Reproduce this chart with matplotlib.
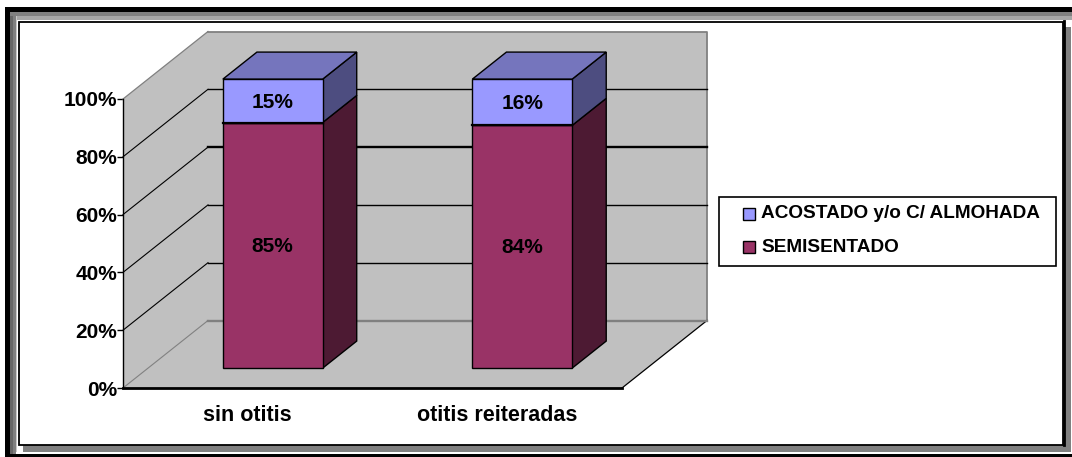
import matplotlib
matplotlib.use('Agg')
import matplotlib.pyplot as plt
from matplotlib.patches import Rectangle

plt.rcParams['font.family'] = ['Liberation Sans', 'DejaVu Sans']

# datos
categorias = ['sin otitis', 'otitis reiteradas']
semisentado = [85, 84]
acostado = [15, 16]
etiquetas_semi = ['85%', '84%']
etiquetas_acos = ['15%', '16%']
ticks = [0, 20, 40, 60, 80, 100]
tick_labels = ['0%', '20%', '40%', '60%', '80%', '100%']
nombre_acos = 'ACOSTADO y/o C/ ALMOHADA'
nombre_semi = 'SEMISENTADO'

W, H = 1072, 457
GRIS = '#C0C0C0'
GRIS_O = '#808080'
AZUL, AZUL_TOP, AZUL_LADO = '#9999FF', '#7575BD', '#4D4D80'
VINO, VINO_LADO = '#993366', '#4D1A33'

# desplazamiento de profundidad en unidades de datos (85 px, 67.5 px)
DX = 85 / 249.5
DY = 67.5 / 2.89
ANCHO = 0.40
D1, D2 = 0.294, 0.695


def proy(x, y, d):
    return x + d * DX, y + d * DY


def cara(ax, puntos, color, ec='black', lw=1.0, z=3):
    xs = [proy(*p)[0] for p in puntos]
    ys = [proy(*p)[1] for p in puntos]
    ax.fill(xs, ys, facecolor=color, edgecolor=ec, linewidth=lw, zorder=z,
            clip_on=False, joinstyle='miter')


fig = plt.figure(figsize=(W / 100, H / 100), dpi=100, facecolor='white')

# marco de la figura, en pixeles
bg = fig.add_axes([0, 0, 1, 1])
bg.set_xlim(0, W)
bg.set_ylim(H, 0)
bg.axis('off')
marco = [
    (5, 7, 5, 450, 'black'),
    (5, 7, 1067, 5, 'black'),
    (10, 12, 3, 445, '#666666'),
    (13, 12, 3, 445, '#808080'),
    (10, 12, 1062, 4, '#808080'),
    (16, 16, 1056, 4, '#A6A6A6'),
    (16, 16, 1, 436, '#C8C8C8'),
    (1064, 27, 7, 425, GRIS_O),
    (23, 445, 1048, 7, GRIS_O),
    (10, 454, 1062, 3, 'black'),
]
for x0, y0, w, h, c in marco:
    bg.add_patch(Rectangle((x0, y0), w, h, facecolor=c, edgecolor='none'))
bg.add_patch(Rectangle((18.5, 21.5), 1044, 423, facecolor='none', edgecolor='black', linewidth=1.3))
bg.plot([1063.5, 1063.5], [21, 445], color='black', lw=2)

# leyenda
bg.add_patch(Rectangle((718.5, 196.5), 337, 69, facecolor='white', edgecolor='black', linewidth=1.2))
bg.add_patch(Rectangle((742.5, 207.5), 12, 12, facecolor=AZUL, edgecolor='black', linewidth=1.0))
bg.add_patch(Rectangle((742.5, 240.5), 12, 12, facecolor=VINO, edgecolor='black', linewidth=1.0))
bg.text(761, 213, nombre_acos, ha='left', va='center', fontsize=13.7, fontweight='bold')
bg.text(761, 247, nombre_semi, ha='left', va='center', fontsize=13.7, fontweight='bold')

# zona del grafico: eje x 0-2 categorias, eje y 0-100 %
ax = fig.add_axes([123 / W, (H - 388) / H, 499 / W, 289 / H])
ax.set_xlim(0, 2)
ax.set_ylim(0, 100)
ax.patch.set_visible(False)
for s in ['top', 'right']:
    ax.spines[s].set_visible(False)
ax.spines['left'].set_linewidth(1.0)
ax.spines['bottom'].set_linewidth(2.0)
ax.spines['left'].set_zorder(6)
ax.spines['bottom'].set_zorder(6)

# paredes y piso
cara(ax, [(0, 0, 1), (2, 0, 1), (2, 100, 1), (0, 100, 1)], GRIS, ec='none', z=1)
cara(ax, [(0, 0, 0), (0, 100, 0), (0, 100, 1), (0, 0, 1)], GRIS, ec='none', z=1)
cara(ax, [(0, 0, 0), (2, 0, 0), (2, 0, 1), (0, 0, 1)], GRIS, ec='none', z=1)
xa, ya = zip(proy(0, 100, 0), proy(0, 100, 1))
ax.plot(xa, ya, color=GRIS_O, lw=0.9, zorder=2, clip_on=False)
xa, ya = zip(proy(0, 100, 1), proy(2, 100, 1), proy(2, 0, 1))
ax.plot(xa, ya, color=GRIS_O, lw=1.3, zorder=2, clip_on=False)
xa, ya = zip(proy(2, 0, 0), proy(2, 0, 1))
ax.plot(xa, ya, color='black', lw=0.9, zorder=2, clip_on=False)

# lineas de division
for t in ticks[:-1]:
    color = GRIS_O if t == 0 else 'black'
    xa, ya = zip(proy(0, t, 0), proy(0, t, 1))
    ax.plot(xa, ya, color=color, lw=0.8, zorder=2, clip_on=False)
    xa, ya = zip(proy(0, t, 1), proy(2, t, 1))
    lw = 1.7 if t in (0, 60) else 1.0
    ax.plot(xa, ya, color=color, lw=lw, zorder=2, clip_on=False)

# barras apiladas en 3d
for i in range(len(categorias)):
    x0 = i + 0.5 - ANCHO / 2
    x1 = i + 0.5 + ANCHO / 2
    a = semisentado[i]
    b = semisentado[i] + acostado[i]
    cara(ax, [(x1, 0, D1), (x1, 0, D2), (x1, a, D2), (x1, a, D1)], VINO_LADO)
    cara(ax, [(x1, a, D1), (x1, a, D2), (x1, b, D2), (x1, b, D1)], AZUL_LADO)
    cara(ax, [(x0, b, D1), (x1, b, D1), (x1, b, D2), (x0, b, D2)], AZUL_TOP)
    cara(ax, [(x0, 0, D1), (x1, 0, D1), (x1, a, D1), (x0, a, D1)], VINO)
    cara(ax, [(x0, a, D1), (x1, a, D1), (x1, b, D1), (x0, b, D1)], AZUL)
    xa, ya = zip(proy(x0, a, D1), proy(x1, a, D1))
    ax.plot(xa, ya, color='black', lw=1.6, zorder=4, clip_on=False)
    tx, ty = proy(i + 0.5, a / 2 - 0.4, D1)
    ax.text(tx, ty, etiquetas_semi[i], ha='center', va='center', fontsize=15,
            fontweight='bold', color='black', zorder=5)
    tx, ty = proy(i + 0.5, (a + b) / 2 - 0.5, D1)
    ax.text(tx, ty, etiquetas_acos[i], ha='center', va='center', fontsize=15,
            fontweight='bold', color='black', zorder=5)

ax.set_yticks(ticks)
ax.set_yticklabels(tick_labels, fontsize=15, fontweight='bold')
ax.set_xticks([0.5, 1.5])
ax.set_xticklabels(categorias, fontsize=15.5, fontweight='bold')
ax.tick_params(axis='y', length=4, width=1.0, pad=0)
ax.tick_params(axis='x', length=0, pad=12)

fig.savefig('out.png', dpi=100, facecolor='white')
